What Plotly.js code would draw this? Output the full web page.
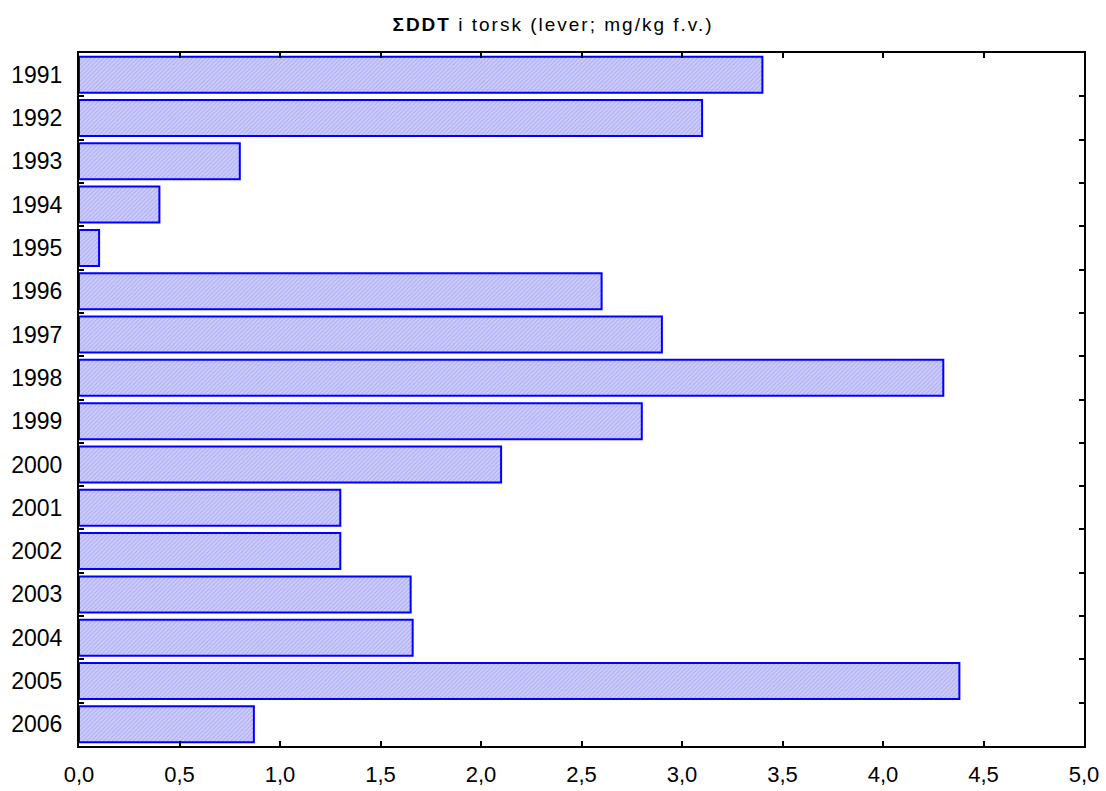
<!DOCTYPE html>
<html><head><meta charset="utf-8">
<script src="https://cdn.plot.ly/plotly-3.0.1.min.js"></script>
<style>html,body{margin:0;padding:0;background:#fff}
.gtitle{letter-spacing:2px}</style>
</head><body>
<div id="chart" style="width:1106px;height:791px"></div>
<script>
const years = ['1991','1992','1993','1994','1995','1996','1997','1998','1999','2000','2001','2002','2003','2004','2005','2006'];
const values = [3.40, 3.10, 0.80, 0.40, 0.10, 2.60, 2.90, 4.30, 2.80, 2.10, 1.30, 1.30, 1.65, 1.66, 4.38, 0.87];
const xTicks = [0,0.5,1,1.5,2,2.5,3,3.5,4,4.5,5];

const trace = {
  type: 'bar', orientation: 'h', y: years, x: values,
  marker: {
    color: '#c4c4fc',
    line: {color: '#0000ff', width: 2},
    pattern: {shape: '/', fgcolor: '#a8a8ec', bgcolor: '#ccccfe', size: 3, solidity: 0.3}
  },
  hoverinfo: 'x+y'
};
const layout = {
  width: 1106, height: 791,
  margin: {l: 79, r: 22, t: 53, b: 45},
  paper_bgcolor: '#fff', plot_bgcolor: '#fff',
  separators: ',.',
  font: {family: 'Liberation Sans, Arial, sans-serif', color: '#000', size: 23},
  title: {text: '<b>ΣDDT</b> i torsk (lever; mg/kg f.v.)', x: 0.5, xanchor: 'center', y: 0.977,
          font: {family: 'Liberation Sans, Arial, sans-serif', size: 19}},
  bargap: 0.17,
  showlegend: false,
  xaxis: {
    range: [0, 5], tickvals: xTicks, tickformat: '.1f', tickfont: {size: 22},
    ticklabelstandoff: 8,
    showgrid: false, zeroline: false, showline: true, linecolor: '#000', linewidth: 2,
    mirror: 'ticks', ticks: 'inside', ticklen: 5, tickwidth: 2, tickcolor: '#000'
  },
  yaxis: {
    type: 'category', autorange: 'reversed', tickson: 'boundaries', tickfont: {size: 23},
    ticklabelstandoff: 10,
    showgrid: false, zeroline: false, showline: true, linecolor: '#000', linewidth: 2,
    mirror: 'ticks', ticks: 'inside', ticklen: 5, tickwidth: 2, tickcolor: '#000'
  }
};
Plotly.newPlot('chart', [trace], layout, {displayModeBar: false, staticPlot: true});
</script>
</body></html>
